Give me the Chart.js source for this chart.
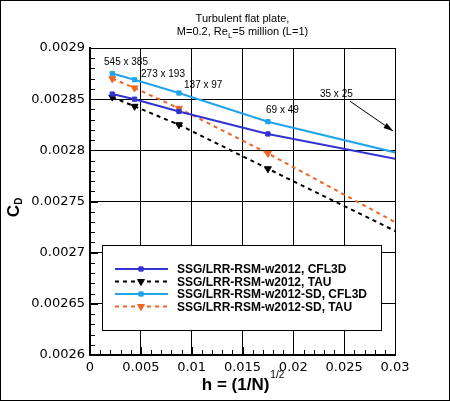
<!DOCTYPE html>
<html>
<head>
<meta charset="utf-8">
<script src="https://cdn.jsdelivr.net/npm/chart.js@4.4.1/dist/chart.umd.min.js"></script>
<style>
  html, body { margin: 0; padding: 0; background: #fff; }
  #wrap { width: 450px; height: 401px; }
</style>
</head>
<body>
<div id="wrap"><canvas id="cdChart" width="450" height="401"></canvas></div>
<script>
// grid spacing h = (1/N)^(1/2) for 545x385 ... 35x25
var hValues = [0.00219, 0.00438, 0.00875, 0.0175, 0.035];

var cdCfl3d   = [0.002855, 0.002850, 0.002838, 0.002816, 0.002782];
var cdTau     = [0.002852, 0.002843, 0.002825, 0.002782, 0.002697];
var cdSdCfl3d = [0.002875, 0.002869, 0.002856, 0.002828, 0.002786];
var cdSdTau   = [0.002870, 0.002861, 0.002841, 0.002797, 0.002703];

var seriesNames = [
  'SSG/LRR-RSM-w2012, CFL3D',
  'SSG/LRR-RSM-w2012, TAU',
  'SSG/LRR-RSM-w2012-SD, CFL3D',
  'SSG/LRR-RSM-w2012-SD, TAU'
];

var xTicks = [0, 0.005, 0.01, 0.015, 0.02, 0.025, 0.03];
var xTickLabels = ['0', '0.005', '0.01', '0.015', '0.02', '0.025', '0.03'];
var yTicks = [0.0026, 0.00265, 0.0027, 0.00275, 0.0028, 0.00285, 0.0029];
var yTickLabels = ['0.0026', '0.00265', '0.0027', '0.00275', '0.0028', '0.00285', '0.0029'];

// grid-size notes, anchored in data units (left edge of text)
var gridNotes = ['545 x 385', '273 x 193', '137 x 97', '69 x 49', '35 x 25'];
var gridNoteH = [0.00138, 0.00502, 0.00925, 0.01731, 0.02262];
var gridNoteCd = [0.002886, 0.002874, 0.002864, 0.002839, 0.002855];
var arrowFrom = [0.02557, 0.002848];
var arrowTo = [0.0298, 0.002819];

function pts(ys) { return hValues.map(function (h, i) { return { x: h, y: ys[i] }; }); }

var BLUE = '#3333d4', LBLUE = '#22a4ea', ORANGE = '#f06522', BLACK = '#000';
var FONT = '"Liberation Sans", Arial, sans-serif';

var overlay = {
  id: 'overlay',
  afterDraw: function (chart) {
    var c = chart.ctx, xs = chart.scales.x, ys = chart.scales.y, a = chart.chartArea;
    c.save();
    // minor ticks, inward
    c.strokeStyle = '#000'; c.lineWidth = 1;
    c.beginPath();
    for (var i = 0; i <= 30; i++) {
      var py = Math.round(ys.getPixelForValue(0.0026 + i * 0.00001)) + 0.5;
      var len = (i % 5 === 0) ? 8 : 5;
      c.moveTo(a.left, py); c.lineTo(a.left + len, py);
    }
    for (var j = 0; j <= 30; j++) {
      var px = Math.round(xs.getPixelForValue(j * 0.001)) + 0.5;
      var l2 = (j % 5 === 0) ? 8 : 5;
      c.moveTo(px, a.bottom); c.lineTo(px, a.bottom - l2);
    }
    c.stroke();

    // grid notes
    c.fillStyle = '#000';
    c.font = '10px ' + FONT;
    c.textBaseline = 'middle'; c.textAlign = 'left';
    gridNotes.forEach(function (t, k) {
      c.fillText(t, xs.getPixelForValue(gridNoteH[k]), ys.getPixelForValue(gridNoteCd[k]));
    });
    // arrow
    var x0 = xs.getPixelForValue(arrowFrom[0]), y0 = ys.getPixelForValue(arrowFrom[1]);
    var x1 = xs.getPixelForValue(arrowTo[0]), y1 = ys.getPixelForValue(arrowTo[1]);
    var ang = Math.atan2(y1 - y0, x1 - x0);
    c.beginPath(); c.moveTo(x0, y0); c.lineTo(x1, y1); c.stroke();
    c.beginPath();
    c.moveTo(x1, y1);
    c.lineTo(x1 - 10 * Math.cos(ang - 0.3), y1 - 10 * Math.sin(ang - 0.3));
    c.lineTo(x1 - 10 * Math.cos(ang + 0.3), y1 - 10 * Math.sin(ang + 0.3));
    c.closePath(); c.fill();

    // title
    var cx = (a.left + a.right) / 2;
    c.textAlign = 'center';
    c.font = '11px ' + FONT;
    c.fillText('Turbulent flat plate,', cx, 19);
    var p1 = 'M=0.2, Re', p2 = '=5 million (L=1)';
    var w1 = c.measureText(p1).width, w2 = c.measureText(p2).width;
    c.font = '8px ' + FONT;
    var ws = c.measureText('L').width;
    var sx = cx - (w1 + ws + w2) / 2;
    c.textAlign = 'left';
    c.font = '11px ' + FONT;
    c.fillText(p1, sx, 32);
    c.font = '8px ' + FONT;
    c.fillText('L', sx + w1, 36);
    c.font = '11px ' + FONT;
    c.fillText(p2, sx + w1 + ws, 32);

    // x axis title
    c.font = 'bold 17px ' + FONT;
    var xt = 'h = (1/N)';
    var wx = c.measureText(xt).width;
    c.font = '10px ' + FONT;
    var wsup = c.measureText('1/2').width;
    var xx = cx - (wx + wsup) / 2;
    c.font = 'bold 17px ' + FONT;
    c.fillText(xt, xx, 385);
    c.font = '10px ' + FONT;
    c.fillText('1/2', xx + wx + 1, 375);

    // y axis title
    c.save();
    c.translate(14, 208);
    c.rotate(-Math.PI / 2);
    c.font = 'bold 17px ' + FONT;
    var wc = c.measureText('C').width;
    c.fillText('C', -wc / 2 - 3, 0);
    c.font = 'bold 10px ' + FONT;
    c.fillText('D', wc / 2 - 3, 5);
    c.restore();

    // legend
    var lx = 102, ly = 245, lw = 279, lh = 85;
    c.fillStyle = '#fff';
    c.fillRect(lx, ly, lw, lh);
    c.strokeStyle = '#000'; c.lineWidth = 1;
    c.strokeRect(lx + 0.5, ly + 0.5, lw, lh);
    c.font = 'bold 12px ' + FONT;
    chart.data.datasets.forEach(function (ds, k) {
      var ry = 269 + k * 12.5;
      c.strokeStyle = ds.borderColor;
      c.lineWidth = ds.borderWidth;
      c.setLineDash(ds.borderDash || []);
      c.beginPath(); c.moveTo(115, ry); c.lineTo(168, ry); c.stroke();
      c.setLineDash([]);
      c.fillStyle = ds.pointBackgroundColor;
      c.strokeStyle = ds.pointBorderColor;
      c.lineWidth = 1;
      Chart.helpers.drawPoint(c, {
        pointStyle: ds.pointStyle, radius: ds.pointRadius, rotation: ds.pointRotation || 0, borderWidth: 1
      }, 141, ry);
      c.fillStyle = '#000';
      c.fillText(seriesNames[k], 177, ry + 1);
    });

    // outer frame
    c.strokeStyle = '#000'; c.lineWidth = 1;
    c.strokeRect(0.5, 0.5, chart.width - 1, chart.height - 1);
    c.restore();
  }
};

function mkSet(label, ys, color, dashed, style) {
  return {
    label: label, data: pts(ys),
    borderColor: color, backgroundColor: color,
    pointBackgroundColor: color, pointBorderColor: color,
    borderWidth: 2, borderDash: dashed ? [4, 4] : [],
    pointStyle: style, pointRadius: style === 'rect' ? 3 : 4,
    pointRotation: style === 'triangle' ? 180 : 0,
    pointBorderWidth: 1, tension: 0, fill: false
  };
}

var ctx = document.getElementById('cdChart');
new Chart(ctx, {
  type: 'line',
  data: {
    datasets: [
      mkSet(seriesNames[0], cdCfl3d, BLUE, false, 'rect'),
      mkSet(seriesNames[1], cdTau, BLACK, true, 'triangle'),
      mkSet(seriesNames[2], cdSdCfl3d, LBLUE, false, 'rect'),
      mkSet(seriesNames[3], cdSdTau, ORANGE, true, 'triangle')
    ]
  },
  options: {
    responsive: false, animation: false, devicePixelRatio: 1,
    layout: { padding: { left: 0, top: 48, right: 55, bottom: 0 } },
    plugins: { legend: { display: false }, tooltip: { enabled: false } },
    scales: {
      x: {
        type: 'linear', min: 0, max: 0.03,
        afterFit: function (s) { s.height = 46; },
        afterBuildTicks: function (s) { s.ticks = xTicks.map(function (v) { return { value: v }; }); },
        grid: { color: '#000', lineWidth: 1, drawTicks: false },
        border: { color: '#000', width: 2 },
        ticks: {
          color: '#000', padding: 5, maxRotation: 0, autoSkip: false,
          font: { family: 'DejaVu Sans', size: 13 },
          callback: function (v, i) { return xTickLabels[i]; }
        }
      },
      y: {
        type: 'linear', min: 0.0026, max: 0.0029,
        afterFit: function (s) { s.width = 90; },
        afterBuildTicks: function (s) { s.ticks = yTicks.map(function (v) { return { value: v }; }); },
        grid: { color: '#000', lineWidth: 1, drawTicks: false },
        border: { color: '#000', width: 2 },
        ticks: {
          color: '#000', padding: 5, autoSkip: false,
          font: { family: 'DejaVu Sans', size: 13 },
          callback: function (v, i) { return yTickLabels[i]; }
        }
      }
    }
  },
  plugins: [overlay]
});
</script>
</body>
</html>
